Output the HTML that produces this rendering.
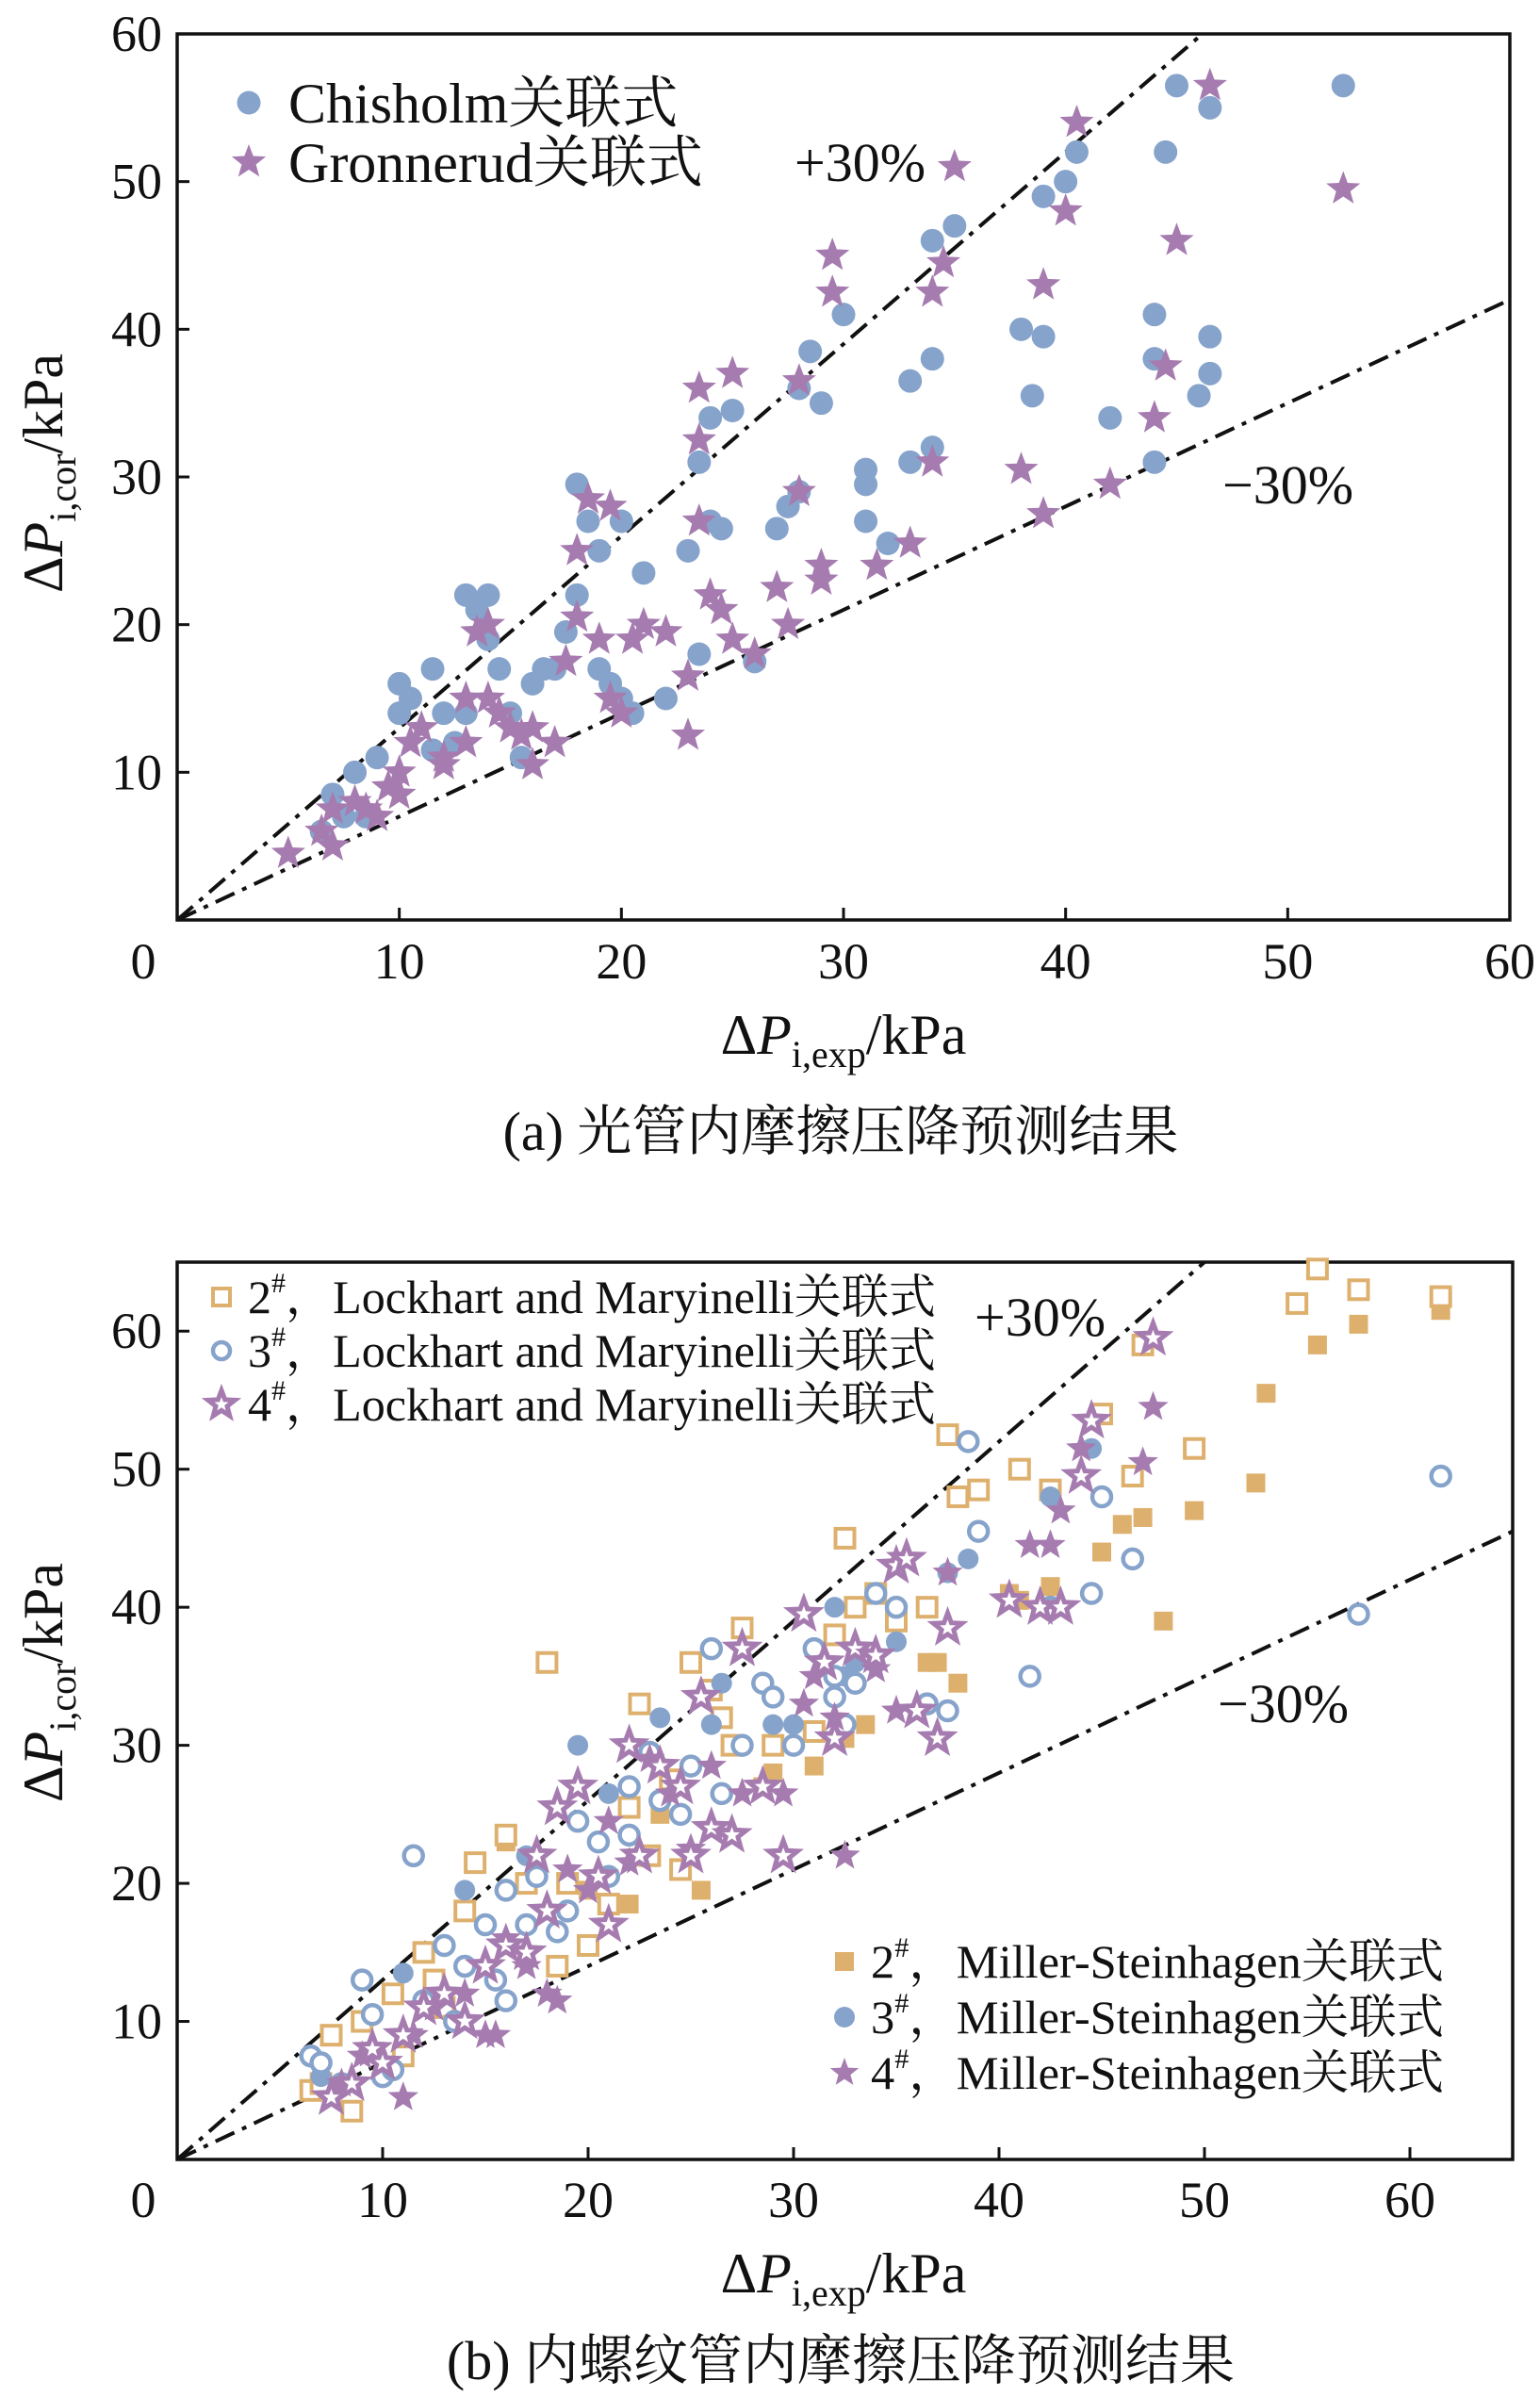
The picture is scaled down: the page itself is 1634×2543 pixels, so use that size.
<!DOCTYPE html>
<html><head><meta charset="utf-8"><style>
html,body{margin:0;padding:0;background:#fff;}
svg{display:block;font-family:"Liberation Serif","Noto Serif CJK SC","Noto Sans CJK SC",serif;}
</style></head><body>
<svg id="fig" width="1634" height="2543" viewBox="0 0 1634 2543" xmlns="http://www.w3.org/2000/svg">
<g id="ga"></g>
<g id="gb"></g>
</svg>
<script>
// ---------- data: chart (a) ----------
const aTicks = [0,10,20,30,40,50,60];
const aChisholmX = [6.5,7,7.5,8,8.5,9,10,10,10.5,11.5,11.5,12,12.5,13,13,13.5,14,14,14.5,15,15.5,16,16.5,17,17.5,18,18,18.5,19,19,19.5,20,20,20.5,21,22,23,23.5,23.5,24,24,24.5,25,26,27,27.5,28,28,28.5,29,30,31,31,31,32,33,33,34,34,34,35,38,38.5,39,39,40,40.5,42,44,44,44,44.5,45,46,46.5,46.5,46.5,52.5];
const aChisholmY = [6,8.5,7,10,7,11,16,14,15,17,11.5,14,12,14,22,21,22,19,17,14,11,16,17,17,19.5,22,29.5,27,25,17,16,15,27,14,23.5,15,25,31,18,34,27,26.5,34.5,17.5,26.5,28,36,29,38.5,35,41,30.5,29.5,27,25.5,36.5,31,38,32,46,47,40,35.5,39.5,49,50,52,34,38,41,31,52,56.5,35.5,55,39.5,37,56.5];
const aGronX = [5,6.5,7,7,8,8.5,9,9.5,10,10,10.5,11,12,12,13,13,13.5,14,14,14.5,15,15.5,16,16,17,17.5,18,18,18.5,19,19.5,19.5,20,20.5,21,22,23,23,23.5,23.5,23.5,24,24.5,25,25,26,27,27.5,28,28,29,29,29.5,29.5,31.5,33,34,34,35,34.5,38,39,39,40,40.5,42,44,44.5,45,46.5,52.5];
const aGronY = [4.5,6,5,7.5,8,7.5,7,9,10,8.5,12,13,11,10.5,12,15,19.5,20,15,14,13,12.5,10.5,13,12,17.5,20.5,25,28.5,19,28,15,14,19,20,19.5,16.5,12.5,36,32.5,27,22,21,37,19,18,22.5,20,29,36.5,24,23,42.5,45,24,25.5,42.5,31,51,44.5,30.5,27.5,43,48,54,29.5,34,37.5,46,56.5,49.5];

// ---------- data: chart (b) ----------
const bXTicks = [0,10,20,30,40,50,60];
const bYTicks = [10,20,30,40,50,60];
const lm2X = [6.5,7,7.5,8.5,9,10.5,11,12,12.5,13,14,14.5,16,17,18,18.5,19,20,21,22,22.5,23,24,24.5,25,26,26.5,27,27.5,29,31,32,32.5,33,34,35,36.5,37.5,38,39,41,42.5,45,46.5,47,49.5,54.5,55.5,57.5,61.5];
const lm2Y = [5,5.5,9,3.5,10,12,7.5,15,13,11,18,21.5,23.5,20,36,14,20,15.5,18.5,25.5,33,22,27.5,21,36,34,32,30,38.5,30,31,38,45,40,41,39,40,52.5,48,48.5,50,48.5,54,49.5,59,51.5,62,64.5,63,62.5];
const ms2X = [16,20,22,23.5,25.5,28.5,29,31,32.5,33.5,36.5,37,38,40.5,41,42.5,45,46,47,48,49.5,52.5,53,55.5,57.5,61.5];
const ms2Y = [23,19.5,18.5,25,19.5,27,28,28.5,30.5,31.5,36,36,34.5,41,40.5,41.5,44,46,46.5,39,47,49,55.5,59,60.5,61.5];
const lm3X = [6.5,7,8,9,9.5,10,10.5,11.5,12,13,13.5,14,15,15.5,16,16,17,17.5,18.5,19,19.5,20.5,21,22,22,23,23.5,24.5,25,26,26.5,27.5,28.5,29,30,31,32,32,32.5,33,34,35,36.5,37.5,38.5,39,41.5,42.5,44.5,45,46.5,57.5,61.5];
const lm3Y = [7.5,7,5.5,13,10.5,6,6.5,22,11.5,15.5,10,14,17,13,11.5,19.5,17,20.5,16.5,18,24.5,23,20.5,27,23.5,29.5,26,25,28.5,37,26.5,30,34.5,33.5,30,37,35,33.5,31.5,34.5,41,40,33,32.5,52,45.5,35,40,41,48,43.5,39.5,49.5];
const ms3X = [7,11,14,17,19.5,21,23.5,26,26.5,29,30,32,32.5,33,35,37.5,38.5,42.5,44.5];
const ms3Y = [6,13.5,19.5,22,30,26.5,32,31.5,34.5,31.5,31.5,40,35,36,37.5,42.5,43.5,48,51.5];
const lm4X = [7.5,8.5,9.5,10,11,12,13,14,15,16,17,17.5,18,18.5,19.5,20.5,21,22,22.5,23.5,24.5,25,25.5,26,27,27.5,28.5,29.5,30.5,31.5,32,33,34,35,35.5,36,37,37.5,40.5,42,43,44,44.5,47.5];
const lm4Y = [4.5,5.5,8,7,9,11,12,10,14,15.5,15,22,18,25.5,27,20.5,17,30,22,28.5,27,22,33.5,24,23.5,37,27,22,39.5,36,30.5,37,36.5,43,43.5,32.5,30.5,38.5,40.5,40,40,49.5,53.5,59.5];
const ms4X = [8,9,11,11.5,12.5,14,15,15.5,16,17,18,18.5,19,20,21,22,23,24,25,26,27.5,29.5,30.5,31,32,32.5,33,34,35,37.5,41.5,42.5,43,44,47,47.5,47.5];
const ms4Y = [5.5,7.5,4.5,9,11,12,9,9,16,14,12,11.5,21,19.5,24.5,21.5,29,26.5,22.5,28.5,26.5,26.5,33,35,32,22,37,35.5,32.5,42.5,44.5,44.5,47,51.5,50.5,54.5,59.5];

const NS='http://www.w3.org/2000/svg';
const BLUE='#86a3cb', PURP='#a67cb0', ORNG='#deb06e';
function mk(parent,tag,attrs,txt){const e=document.createElementNS(NS,tag);for(const k in attrs)e.setAttribute(k,attrs[k]);if(txt!==undefined)e.textContent=txt;parent.appendChild(e);return e;}
function starPts(cx,cy,R){const r=R*0.42;let p=[];for(let i=0;i<10;i++){const a=-Math.PI/2+i*Math.PI/5;const rr=i%2?r:R;p.push((cx+rr*Math.cos(a)).toFixed(1)+','+(cy+rr*Math.sin(a)).toFixed(1));}return p.join(' ');}
function marker(g,type,cx,cy,s,color,open,name){
  let e;
  if(type==='circle'){e=mk(g,'circle',{cx:cx,cy:cy,r:s,fill:open?'#fff':color,stroke:color,'stroke-width':open?4.5:0});}
  else if(type==='square'){e=mk(g,'rect',{x:cx-s,y:cy-s,width:2*s,height:2*s,fill:open?'#fff':color,stroke:color,'stroke-width':open?4:0});}
  else {e=mk(g,'polygon',{points:starPts(cx,cy,s),fill:open?'#fff':color,stroke:color,'stroke-width':open?5:0,'stroke-linejoin':'miter'});}
  
  
  return e;
}
function txt(g,x,y,s,size,anchor,name,extra){const e=mk(g,'text',Object.assign({x:x,y:y,'font-size':size,'text-anchor':anchor||'start',fill:'#111'},extra||{}),s);
  
  
  return e;}

function axes(g,L,T,R,B,xmax,ymax,xticks,yticks,tickY,pre){
  const sx=v=>L+v*(R-L)/xmax, sy=v=>B-v*(B-T)/ymax;
  const fr=mk(g,'rect',{x:L,y:T,width:R-L,height:B-T,fill:'none',stroke:'#111','stroke-width':3.5});
  
  
  xticks.forEach(v=>{ if(v>0&&v<xmax){const t=mk(g,'line',{x1:sx(v),x2:sx(v),y1:B,y2:B-13,stroke:'#111','stroke-width':3});
    
    }
    if(v>0) txt(g,sx(v),tickY,String(v),54,'middle',pre+'x-tick-label');});
  yticks.forEach(v=>{ if(v>0&&v<ymax){const t=mk(g,'line',{x1:L,x2:L+13,y1:sy(v),y2:sy(v),stroke:'#111','stroke-width':3});
    
    }
    if(v>0) txt(g,L-16,sy(v)+18,String(v),54,'end',pre+'y-tick-label');});
  [[1.3,'plus-30-line'],[0.7,'minus-30-line']].forEach(([k,n])=>{
    let x2=xmax,y2=k*xmax; if(y2>ymax){y2=ymax;x2=ymax/k;}
    const l=mk(g,'line',{x1:sx(0),y1:sy(0),x2:sx(x2),y2:sy(y2),stroke:'#111','stroke-width':4,'stroke-dasharray':'22 9 5 9'});
    
    
  });
  return {sx,sy};
}
function series(g,xs,ys,sx,sy,type,s,color,open,name){xs.forEach((x,i)=>marker(g,type,sx(x),sy(ys[i]),s,color,open,name));}

// ---------- chart (a) ----------
const ga=document.getElementById('ga');
const A=axes(ga,188,36,1602,976,60,60,aTicks,aTicks,1038,'a-');
txt(ga,152,1038,'0',54,'middle','a-origin-label');
series(ga,aChisholmX,aChisholmY,A.sx,A.sy,'circle',12.5,BLUE,false,'chisholm-point');
series(ga,aGronX,aGronY,A.sx,A.sy,'star',19,PURP,false,'gronnerud-point');
marker(ga,'circle',264,109,12.5,BLUE,false,'legend-chisholm-marker');
txt(ga,306,130,'Chisholm关联式',60,'start','legend-chisholm-label');
marker(ga,'star',264,172,19,PURP,false,'legend-gronnerud-marker');
txt(ga,306,193,'Gronnerud关联式',60,'start','legend-gronnerud-label');
txt(ga,843,192,'+30%',58,'start','a-plus-30-label');
txt(ga,1297,534,'−30%',58,'start','a-minus-30-label');
const ya=txt(ga,0,0,'',60,'middle','a-y-axis-title',{transform:'translate(66,502) rotate(-90)'});
ya.innerHTML='Δ<tspan font-style="italic">P</tspan><tspan font-size="40" dy="14">i,cor</tspan><tspan dy="-14">/kPa</tspan>';
const xa=txt(ga,895,1118,'',60,'middle','a-x-axis-title');
xa.innerHTML='Δ<tspan font-style="italic">P</tspan><tspan font-size="40" dy="14">i,exp</tspan><tspan dy="-14">/kPa</tspan>';
txt(ga,892,1220,'(a) 光管内摩擦压降预测结果',58,'middle','a-caption');

// ---------- chart (b) ----------
const gb=document.getElementById('gb');
const Bc=axes(gb,188,1339,1605,2291,65,65,bXTicks,bYTicks,2352,'b-');
txt(gb,152,2352,'0',54,'middle','b-origin-label');
series(gb,ms2X,ms2Y,Bc.sx,Bc.sy,'square',10,ORNG,false,'ms-2-point');
series(gb,lm2X,lm2Y,Bc.sx,Bc.sy,'square',10,ORNG,true,'lm-2-point');
series(gb,ms3X,ms3Y,Bc.sx,Bc.sy,'circle',11,BLUE,false,'ms-3-point');
series(gb,lm3X,lm3Y,Bc.sx,Bc.sy,'circle',10,BLUE,true,'lm-3-point');
series(gb,ms4X,ms4Y,Bc.sx,Bc.sy,'star',17,PURP,false,'ms-4-point');
series(gb,lm4X,lm4Y,Bc.sx,Bc.sy,'star',16,PURP,true,'lm-4-point');
const legB=[['square',true,ORNG,'2'],['circle',true,BLUE,'3'],['star',true,PURP,'4']];
legB.forEach((d,i)=>{const y=1376+i*57;
  marker(gb,d[0],235,y,d[0]==='star'?15:9,d[2],d[1],'legend-lm-'+d[3]+'-marker');
  const t=txt(gb,263,y+17,'',50,'start','legend-lm-'+d[3]+'-label',{textLength:730,lengthAdjust:'spacingAndGlyphs'});
  t.innerHTML=d[3]+'<tspan font-size="30" dy="-22">#</tspan><tspan dy="22">，Lockhart and Maryinelli关联式</tspan>';});
const legB2=[['square',ORNG,'2'],['circle',BLUE,'3'],['star',PURP,'4']];
legB2.forEach((d,i)=>{const y=2081+i*59;
  marker(gb,d[0],896,y,d[0]==='star'?16:(d[0]==='circle'?11:10),d[1],false,'legend-ms-'+d[2]+'-marker');
  const t=txt(gb,924,y+17,'',50,'start','legend-ms-'+d[2]+'-label',{textLength:608,lengthAdjust:'spacingAndGlyphs'});
  t.innerHTML=d[2]+'<tspan font-size="30" dy="-22">#</tspan><tspan dy="22">，Miller-Steinhagen关联式</tspan>';});
txt(gb,1034,1417,'+30%',58,'start','b-plus-30-label');
txt(gb,1292,1827,'−30%',58,'start','b-minus-30-label');
const yb=txt(gb,0,0,'',60,'middle','b-y-axis-title',{transform:'translate(66,1785) rotate(-90)'});
yb.innerHTML='Δ<tspan font-style="italic">P</tspan><tspan font-size="40" dy="14">i,cor</tspan><tspan dy="-14">/kPa</tspan>';
const xb=txt(gb,895,2432,'',60,'middle','b-x-axis-title');
xb.innerHTML='Δ<tspan font-style="italic">P</tspan><tspan font-size="40" dy="14">i,exp</tspan><tspan dy="-14">/kPa</tspan>';
txt(gb,892,2524,'(b) 内螺纹管内摩擦压降预测结果',58,'middle','b-caption');
</script>
</body></html>
